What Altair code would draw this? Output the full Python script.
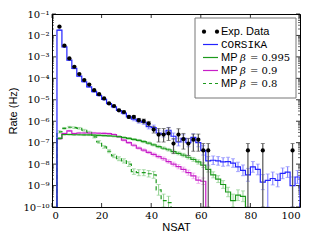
import altair as alt
import pandas as pd

# ---------------- data (log10 of rate in Hz) ----------------
bin_edges = list(range(2, 102, 2))          # histogram bin edges, NSAT
bin_centers = [e + 1 for e in bin_edges[:-1]]

exp_nsat = [3, 5, 7, 9, 11, 13, 15, 17, 19, 21, 23, 25, 27, 29, 31, 33, 35, 37, 39, 41,
            43, 45, 47, 49, 51, 53, 55, 57, 59, 61, 63, 79, 85, 97]
exp_log = [-1.59, -2.48, -3.07, -3.46, -3.80, -4.08, -4.29, -4.55, -4.74, -4.94,
           -5.17, -5.29, -5.49, -5.57, -5.80, -5.80, -5.95, -5.99, -6.11, -6.39,
           -6.62, -6.62, -6.57, -7.04, -6.62, -6.84, -7.04, -6.86, -6.86, -7.36,
           -7.36, -7.36, -7.36, -7.36]
exp_hi = [-1.57, -2.46, -3.05, -3.44, -3.78, -4.06, -4.27, -4.52, -4.71, -4.91,
          -5.13, -5.25, -5.44, -5.52, -5.74, -5.74, -5.87, -5.90, -6.01, -6.25,
          -6.34, -6.34, -6.30, -6.81, -6.35, -6.57, -6.80, -6.60, -6.60, -7.04,
          -7.04, -7.04, -7.04, -7.04]
exp_lo = [-1.61, -2.50, -3.09, -3.48, -3.82, -4.10, -4.31, -4.58, -4.77, -4.97,
          -5.21, -5.33, -5.54, -5.62, -5.86, -5.86, -6.04, -6.09, -6.22, -6.55,
          -6.97, -6.97, -6.90, -7.51, -6.95, -7.30, -7.60, -7.40, -7.40, -10.0,
          -10.0, -10.0, -10.0, -10.0]

corsika_log = [-1.75, -2.53, -3.15, -3.54, -3.90, -4.16, -4.40, -4.62, -4.80, -4.98,
               -5.18, -5.33, -5.50, -5.62, -5.80, -5.90, -6.00, -6.05, -6.25, -6.30,
               -6.55, -6.60, -6.42, -6.70, -6.97, -6.80, -7.00, -6.75, -7.00, -7.36,
               -7.85, -7.82, -7.85, -7.90, -7.88, -7.95, -8.13, -8.29, -8.50, -8.13,
               -8.25, -8.84, -8.76, -8.67, -8.76, -8.43, -8.37, -9.00, -8.60]
corsika_err = [0.02, 0.02, 0.02, 0.02, 0.02, 0.02, 0.02, 0.03, 0.03, 0.04,
               0.04, 0.04, 0.05, 0.06, 0.07, 0.08, 0.09, 0.10, 0.11, 0.12,
               0.13, 0.14, 0.13, 0.15, 0.18, 0.17, 0.19, 0.16, 0.19, 0.22,
               0.20, 0.20, 0.20, 0.20, 0.20, 0.20, 0.22, 0.25, 0.30, 0.25,
               0.25, 0.35, 0.30, 0.30, 0.30, 0.25, 0.25, 0.40, 0.30]
corsika_open_low = [87, 97]   # bins whose lower error reaches zero

mp995_log = [-6.80, -6.62, -6.62, -6.63, -6.63, -6.64, -6.64, -6.65, -6.66, -6.67,
             -6.68, -6.70, -6.72, -6.76, -6.80, -6.85, -6.89, -6.95, -7.02, -7.10,
             -7.18, -7.26, -7.33, -7.42, -7.50, -7.58, -7.68, -7.78, -7.90, -8.05,
             -8.25, -8.50, -8.70, -8.95, -9.30, -9.70, -9.45, -9.50]
mp995_err = [0.04, 0.03, 0.03, 0.03, 0.03, 0.03, 0.03, 0.03, 0.03, 0.03,
             0.03, 0.03, 0.03, 0.04, 0.04, 0.04, 0.04, 0.05, 0.05, 0.05,
             0.06, 0.06, 0.06, 0.07, 0.07, 0.08, 0.08, 0.09, 0.10, 0.11,
             0.12, 0.14, 0.16, 0.18, 0.22, 0.30, 0.25, 0.25]

mp09_log = [-6.81, -6.58, -6.45, -6.58, -6.55, -6.55, -6.55, -6.55, -6.56, -6.57,
            -6.58, -6.62, -6.72, -6.88, -7.00, -7.12, -7.25, -7.35, -7.45, -7.55,
            -7.65, -7.75, -7.88, -8.00, -8.12, -8.25, -8.40, -8.55, -8.75, -8.80]
mp09_err = [0.04, 0.03, 0.03, 0.03, 0.03, 0.03, 0.03, 0.03, 0.03, 0.03,
            0.03, 0.03, 0.04, 0.04, 0.04, 0.05, 0.05, 0.06, 0.06, 0.07,
            0.07, 0.08, 0.08, 0.09, 0.10, 0.11, 0.12, 0.13, 0.15, 0.15]

mp08_log = [-6.50, -6.33, -6.28, -6.30, -6.33, -6.42, -6.52, -6.73, -6.97, -7.20,
            -7.40, -7.62, -7.75, -7.85, -8.00, -8.35, -8.40, -8.40, -8.45, -8.50,
            -9.20, -9.70, -9.80]
mp08_err = [0.05, 0.04, 0.04, 0.04, 0.04, 0.04, 0.05, 0.05, 0.06, 0.06,
            0.07, 0.08, 0.09, 0.10, 0.11, 0.13, 0.14, 0.14, 0.15, 0.16,
            0.25, 0.30, 0.30]

y_major = [1e-10, 1e-9, 1e-8, 1e-7, 1e-6, 1e-5, 1e-4, 1e-3, 1e-2, 1e-1]
x_major = [0, 20, 40, 60, 80, 100]

legend_labels = ["Exp. Data", "CORSIKA", "MP", "MP", "MP"]
legend_beta = ["", "", "0.995", "0.9", "0.8"]

# ---------------- styling ----------------
W, H = 248, 193
BOTTOM = 1e-10
BLUE, BLUE_E = "#2323ff", "#8a8aff"
GREEN, GREEN_E = "#1c9a1c", "#8fd08f"
MAG, MAG_E = "#c81ec8", "#eb9beb"

xsc = alt.Scale(domain=[0, 100], nice=False, zero=False)
ysc = alt.Scale(type="log", domain=[1e-10, 1e-1], nice=False)

SUP = "['⁰','¹','²','³','⁴','⁵','⁶','⁷','⁸','⁹']"
EXP = "round(-log(datum.value)/LN10)"
ylabel_expr = f"'10⁻' + ({EXP} == 10 ? '¹⁰' : {SUP}[{EXP}])"

X_AXIS = alt.Axis(values=x_major, format="d", ticks=False, domain=False, grid=False,
                  title="NSAT", labelPadding=3, titlePadding=1)
Y_AXIS = alt.Axis(values=y_major, labelExpr=ylabel_expr, ticks=False, domain=False, grid=False,
                  title="Rate (Hz)", labelPadding=3, titlePadding=4)


def X(field):
    return alt.X(field, scale=xsc, axis=X_AXIS)


def Y(field):
    return alt.Y(field, scale=ysc, axis=Y_AXIS)


def step_frame(logs):
    n = len(logs)
    xs = [bin_edges[0]] + bin_edges[:n] + [bin_edges[n], bin_edges[n]]
    ys = [BOTTOM] + [10 ** v for v in logs] + [10 ** logs[-1], BOTTOM]
    return pd.DataFrame({"x": xs, "y": ys, "i": list(range(len(xs)))})


def err_frame(logs, errs, open_low=()):
    rows = []
    for c, v, e in zip(bin_centers, logs, errs):
        lo = BOTTOM if c in open_low else 10 ** (v - e)
        rows.append({"x": c, "lo": lo, "hi": 10 ** (v + e)})
    return pd.DataFrame(rows)


def step_layer(logs, color, dash=None):
    kw = dict(interpolate="step-after", color=color, strokeWidth=1.2, clip=True)
    if dash:
        kw["strokeDash"] = dash
    return alt.Chart(step_frame(logs)).mark_line(**kw).encode(
        x=X("x:Q"), y=Y("y:Q"), order="i:Q")


def err_layers(df, color, width=1.0, cap=4):
    base = alt.Chart(df)
    bar = base.mark_rule(color=color, strokeWidth=width, clip=True).encode(
        x=X("x:Q"), y=Y("lo:Q"), y2="hi:Q")
    caps = []
    for f in ["lo", "hi"]:
        caps.append(base.mark_tick(orient="horizontal", color=color, size=cap,
                                   thickness=1, clip=True).encode(
            x=X("x:Q"), y=Y(f"{f}:Q")))
    return [bar] + caps


# ---------------- inward ticks ----------------
minor_vals = [k * 10.0 ** d for d in range(-10, -1) for k in range(2, 10)]


def ytick(vals, x0, x1, w):
    return alt.Chart(pd.DataFrame({"v": vals})).mark_rule(color="black", strokeWidth=w).encode(
        y=Y("v:Q"), x=alt.value(x0), x2=alt.value(x1))


def xtick(vals, y0, y1, w):
    return alt.Chart(pd.DataFrame({"v": vals})).mark_rule(color="black", strokeWidth=w).encode(
        x=X("v:Q"), y=alt.value(y0), y2=alt.value(y1))


tick_layers = [
    ytick(y_major, 0, 4, 0.8), ytick(y_major, W - 4, W, 0.8),
    ytick(minor_vals, 0, 2, 0.6), ytick(minor_vals, W - 2, W, 0.6),
    xtick(x_major, H - 4, H, 0.8), xtick(x_major, 0, 4, 0.8),
]

# ---------------- data layers ----------------
exp_df = pd.DataFrame({
    "x": exp_nsat,
    "y": [10 ** v for v in exp_log],
    "lo": [10 ** v for v in exp_lo],
    "hi": [10 ** v for v in exp_hi],
})

layers = list(tick_layers)
layers += err_layers(err_frame(mp08_log, mp08_err), GREEN_E)
layers += err_layers(err_frame(mp09_log, mp09_err), MAG_E)
layers += err_layers(err_frame(mp995_log, mp995_err), GREEN_E)
layers.append(step_layer(mp08_log, GREEN, dash=[4, 3]))
layers.append(step_layer(mp09_log, MAG))
layers.append(step_layer(mp995_log, GREEN))
layers += err_layers(err_frame(corsika_log, corsika_err, corsika_open_low), BLUE_E, width=1.2)
layers.append(step_layer(corsika_log, BLUE))
layers += err_layers(exp_df, "#555555", width=1.2)
layers.append(alt.Chart(exp_df).mark_circle(color="black", size=18, opacity=1, clip=True).encode(
    x=X("x:Q"), y=Y("y:Q")))

# ---------------- legend (drawn) ----------------
one = pd.DataFrame({"a": [0]})
LX0, LX1, LY0, LY1 = 143, 244, 4, 84
rows_y = [17.7, 30.5, 43.5, 56.5, 69.5]
SX0, SX1, TX = 151, 166, 169

legend = [alt.Chart(one).mark_rect(fill="white", stroke="#777777", strokeWidth=1).encode(
    x=alt.value(LX0), x2=alt.value(LX1), y=alt.value(LY0), y2=alt.value(LY1))]
for sx in [SX0 + 1, SX1 - 1]:
    legend.append(alt.Chart(one).mark_circle(color="black", size=18, opacity=1).encode(
        x=alt.value(sx), y=alt.value(rows_y[0])))
for r, (col, dash) in enumerate([(BLUE, None), (GREEN, None), (MAG, None), (GREEN, [3, 3])], start=1):
    kw = dict(color=col, strokeWidth=1.2)
    if dash:
        kw["strokeDash"] = dash
    legend.append(alt.Chart(one).mark_rule(**kw).encode(
        x=alt.value(SX0), x2=alt.value(SX1), y=alt.value(rows_y[r])))
for r, lab in enumerate(legend_labels):
    font = "Liberation Mono" if lab == "CORSIKA" else "Liberation Sans"
    legend.append(alt.Chart(one).mark_text(align="left", baseline="middle", font=font,
                                           fontSize=11, color="black").encode(
        x=alt.value(TX), y=alt.value(rows_y[r]), text=alt.value(lab)))
    if legend_beta[r]:
        legend.append(alt.Chart(one).mark_text(align="left", baseline="middle", font="DejaVu Serif",
                                               fontStyle="italic", fontSize=10, color="black").encode(
            x=alt.value(TX + 19), y=alt.value(rows_y[r]), text=alt.value("β")))
        legend.append(alt.Chart(one).mark_text(align="left", baseline="middle", font="DejaVu Serif",
                                               fontSize=10, color="black").encode(
            x=alt.value(TX + 29), y=alt.value(rows_y[r]), text=alt.value("= " + legend_beta[r])))

chart = alt.layer(*layers, *legend).properties(
    width=W, height=H,
    autosize=alt.AutoSizeParams(type="none"),
    padding={"left": 44, "top": 6, "right": 12, "bottom": 25},
).configure_view(stroke="black", strokeWidth=1).configure_axis(
    labelFont="DejaVu Serif", labelFontSize=10, labelColor="black",
    titleFont="Liberation Sans", titleFontSize=11, titleFontWeight="normal", titleColor="black",
)

chart.save("out.html", embed_options={"renderer": "svg", "actions": False})
